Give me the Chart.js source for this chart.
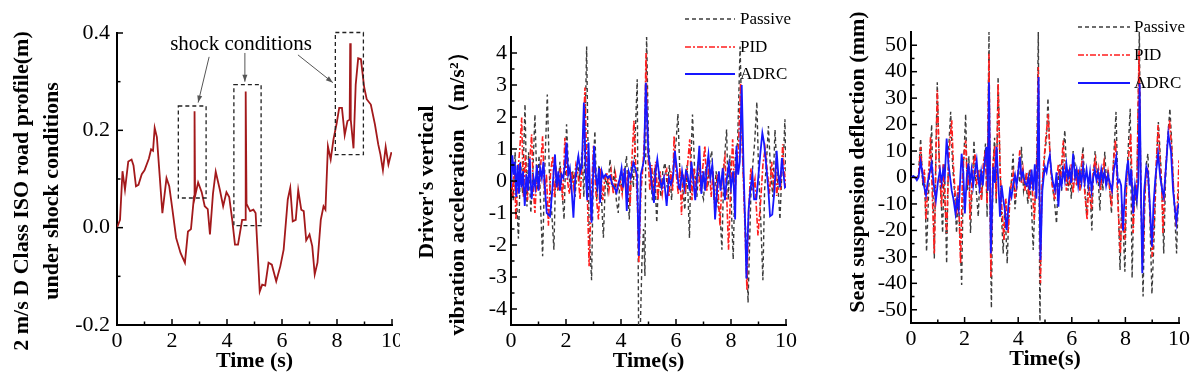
<!DOCTYPE html>
<html>
<head>
<meta charset="utf-8">
<script src="https://cdn.jsdelivr.net/npm/chart.js@4.4.1/dist/chart.umd.min.js"></script>
<style>
  html, body { margin: 0; padding: 0; background: #fff; }
  body { width: 1200px; height: 378px; position: relative; overflow: hidden; }
  .panel { position: absolute; top: 0; width: 400px; height: 378px; }
</style>
</head>
<body>
<div class="panel" style="left:0"><canvas id="road-profile"></canvas></div>
<div class="panel" style="left:400px"><canvas id="driver-acc"></canvas></div>
<div class="panel" style="left:800px"><canvas id="seat-defl"></canvas></div>
<script>
// Axis ticks
const timeTicks = [0, 2, 4, 6, 8, 10];
const timeMinorTicks = [1, 3, 5, 7, 9];
const roadTicks = [-0.2, 0, 0.2, 0.4];
const roadMinorTicks = [-0.1, 0.1, 0.3];
const accTicks = [-4, -3, -2, -1, 0, 1, 2, 3, 4];
const accMinorTicks = [-3.5, -2.5, -1.5, -0.5, 0.5, 1.5, 2.5, 3.5];
const deflTicks = [-50, -40, -30, -20, -10, 0, 10, 20, 30, 40, 50];
const deflMinorTicks = [-45, -35, -25, -15, -5, 5, 15, 25, 35, 45];

// Series names
const seriesNames = ["Passive", "PID", "ADRC"];

// Road profile (t, m)
const roadProfile = [
  [0,0.0],[0.11,0.016],[0.2,0.116],[0.29,0.078],[0.41,0.136],[0.53,0.14],[0.6,0.128],[0.69,0.085],[0.78,0.088],[0.9,0.11],
  [1.0,0.118],[1.16,0.142],[1.24,0.161],[1.31,0.158],[1.37,0.205],[1.45,0.186],[1.53,0.124],[1.65,0.03],[1.8,0.102],[1.9,0.085],
  [2.0,0.044],[2.15,-0.021],[2.31,-0.052],[2.47,-0.072],[2.58,-0.008],[2.69,-0.003],[2.8,0.064],[2.82,0.239],[2.84,0.065],[2.95,0.093],
  [3.08,0.073],[3.19,0.044],[3.3,0.038],[3.38,-0.014],[3.49,0.07],[3.59,0.115],[3.74,0.078],[3.86,0.044],[3.98,0.073],[4.08,0.063],
  [4.19,0.016],[4.29,-0.035],[4.4,-0.035],[4.55,0.016],[4.66,0.016],[4.68,0.28],[4.71,0.049],[4.84,0.034],[4.96,0.037],[5.04,0.03],
  [5.19,-0.131],[5.28,-0.117],[5.39,-0.119],[5.51,-0.072],[5.63,-0.076],[5.79,-0.11],[5.94,-0.079],[6.06,-0.045],[6.21,0.058],[6.3,0.082],
  [6.39,0.013],[6.5,0.016],[6.59,0.077],[6.7,0.037],[6.79,0.034],[6.88,-0.026],[7.0,-0.014],[7.1,-0.038],[7.19,-0.096],[7.29,-0.072],
  [7.41,0.016],[7.51,0.044],[7.58,0.037],[7.67,0.167],[7.77,0.14],[7.87,0.181],[7.99,0.215],[8.08,0.246],[8.18,0.246],[8.28,0.19],
  [8.38,0.219],[8.46,0.222],[8.48,0.379],[8.5,0.222],[8.6,0.163],[8.68,0.294],[8.77,0.348],[8.87,0.346],[8.99,0.288],[9.08,0.264],
  [9.23,0.253],[9.38,0.212],[9.5,0.171],[9.58,0.15],[9.67,0.118],[9.77,0.166],[9.87,0.13],[9.98,0.155]
];

// Shock annotations (t0, t1, v0, v1) and arrows (from t, v -> to t, v)
const shockBoxes = [[2.23, 3.24, 0.061, 0.25], [4.25, 5.24, 0.004, 0.294], [7.94, 8.96, 0.15, 0.401]];
const shockArrows = [[3.35, 0.351, 2.95, 0.257], [4.65, 0.359, 4.65, 0.3], [6.58, 0.355, 7.85, 0.298]];
const shockLabel = ["shock conditions", 4.51, 0.376];

// Driver's vertical acceleration (t, m/s^2)
const accPassive = [
  [0,0.3],[0.08,-0.6],[0.15,0.9],[0.22,-0.9],[0.27,-1.8],[0.35,0.6],[0.42,-0.4],[0.51,2.4],[0.58,-0.8],[0.64,0.9],
  [0.72,-1.0],[0.8,0.4],[0.87,2.08],[0.95,-0.3],[1.02,0.8],[1.08,-0.9],[1.15,-2.35],[1.22,0.2],[1.32,2.7],[1.4,0.1],
  [1.47,-0.8],[1.56,-2.15],[1.63,0.5],[1.7,-0.3],[1.78,0.6],[1.86,-0.4],[1.93,-1.2],[2.02,1.77],[2.1,0.2],[2.18,-0.3],
  [2.25,0.3],[2.33,-0.5],[2.42,0.6],[2.5,0.1],[2.58,0.9],[2.65,-0.5],[2.75,4.2],[2.84,-1.5],[2.93,-3.1],[3.0,0.6],
  [3.05,1.56],[3.12,-0.6],[3.2,0.5],[3.28,-0.4],[3.36,-1.77],[3.44,0.2],[3.52,-0.3],[3.6,0.68],[3.68,-0.2],[3.76,0.3],
  [3.83,-0.6],[3.9,-1.0],[3.97,0.2],[4.05,-0.3],[4.12,0.2],[4.2,0.78],[4.3,-1.2],[4.38,0.6],[4.45,-0.2],[4.52,1.5],
  [4.59,3.18],[4.64,-4.7],[4.7,-4.7],[4.76,-2.56],[4.82,-1.5],[4.87,-2.97],[4.93,4.6],[5.0,1.2],[5.07,0.3],[5.14,-0.6],
  [5.22,0.4],[5.3,-1.3],[5.38,0.2],[5.45,-0.5],[5.52,0.3],[5.6,0.57],[5.68,-0.2],[5.76,0.5],[5.84,-0.6],[5.92,0.7],
  [6.0,1.2],[6.07,2.1],[6.14,0.3],[6.24,-0.16],[6.32,-0.9],[6.4,0.5],[6.49,-1.78],[6.54,0.6],[6.6,2.08],[6.68,0.3],
  [6.76,-0.5],[6.84,0.6],[6.92,-0.3],[7.0,-0.57],[7.08,0.4],[7.16,-0.2],[7.23,0.6],[7.3,0.94],[7.38,-0.6],[7.46,0.3],
  [7.53,-0.8],[7.6,-1.0],[7.67,-2.15],[7.74,0.4],[7.84,1.61],[7.9,-0.6],[7.96,0.8],[8.02,-1.0],[8.08,-2.45],[8.16,0.8],
  [8.24,1.2],[8.33,4.2],[8.42,0.9],[8.5,-1.0],[8.56,-2.0],[8.62,-3.8],[8.72,-0.5],[8.8,0.6],[8.86,1.2],[8.94,2.47],
  [9.0,0.4],[9.08,-1.2],[9.16,-3.1],[9.22,-0.3],[9.29,0.6],[9.36,1.72],[9.44,0.3],[9.52,-0.5],[9.6,1.6],[9.68,0.2],
  [9.74,-0.6],[9.78,-1.2],[9.86,0.5],[9.92,1.0],[9.96,1.93],[10,0.2]
];
const accPID = [
  [0,0.3],[0.06,-0.5],[0.12,0.6],[0.18,-1.2],[0.25,0.3],[0.32,1.0],[0.39,1.98],[0.45,-0.5],[0.52,0.8],[0.6,-0.6],
  [0.68,0.6],[0.75,1.46],[0.81,-0.2],[0.87,-1.0],[0.95,0.4],[1.02,-0.3],[1.08,0.5],[1.15,1.4],[1.22,-0.4],[1.29,0.2],
  [1.36,-1.4],[1.44,0.3],[1.52,0.78],[1.58,-0.5],[1.65,0.2],[1.72,-0.3],[1.8,0.4],[1.88,-0.6],[1.96,1.35],[2.04,0.1],
  [2.12,-0.4],[2.2,0.3],[2.28,-0.2],[2.36,0.5],[2.44,0.2],[2.51,-0.57],[2.6,0.8],[2.69,2.92],[2.76,0.2],[2.84,-2.66],
  [2.92,-0.5],[3.0,1.1],[3.08,-0.3],[3.18,-1.2],[3.26,0.4],[3.34,-0.6],[3.41,0.1],[3.48,0.26],[3.56,-0.3],[3.64,0.3],
  [3.72,-0.4],[3.8,0.2],[3.88,-0.3],[3.96,0.05],[4.04,-0.4],[4.12,0.4],[4.2,-0.2],[4.26,0.3],[4.33,-0.78],[4.4,0.7],
  [4.47,1.88],[4.55,0.2],[4.6,-0.8],[4.65,-2.55],[4.72,-0.4],[4.8,0.5],[4.86,1.5],[4.91,4.0],[4.98,0.8],[5.05,-0.3],
  [5.12,0.5],[5.18,-0.57],[5.26,0.6],[5.34,-0.6],[5.42,0.3],[5.5,-0.4],[5.58,0.2],[5.66,0.36],[5.74,-0.5],[5.82,0.3],
  [5.88,-0.3],[5.93,1.4],[6.0,0.3],[6.08,-0.4],[6.14,0.4],[6.2,-1.06],[6.27,0.2],[6.34,-0.4],[6.42,0.5],[6.5,1.3],
  [6.58,-0.6],[6.65,0.4],[6.72,-0.4],[6.8,0.6],[6.88,-0.3],[6.96,0.3],[7.05,1.1],[7.12,-0.3],[7.2,0.6],[7.28,-0.5],
  [7.35,0.3],[7.42,-1.1],[7.5,0.2],[7.56,-0.8],[7.6,-1.4],[7.68,0.2],[7.78,0.73],[7.85,-0.6],[7.91,-2.15],[8.0,0.1],
  [8.06,1.3],[8.14,-0.5],[8.2,0.4],[8.27,1.0],[8.35,3.07],[8.42,0.8],[8.49,-1.0],[8.58,-3.4],[8.64,-1.0],[8.72,0.4],
  [8.8,-0.3],[8.87,0.05],[8.92,-0.8],[8.98,-1.7],[9.08,-0.6],[9.16,0.5],[9.24,1.0],[9.32,0.3],[9.4,-0.4],[9.48,0.6],
  [9.56,-0.3],[9.62,0.4],[9.66,-0.47],[9.74,0.2],[9.8,-0.3],[9.88,1.15],[9.94,0.3],[10,-0.2]
];
const accADRC = [
  [0,-0.2],[0.05,0.8],[0.1,0.2],[0.14,0.6],[0.19,-0.5],[0.24,0.5],[0.29,-0.4],[0.33,0.57],[0.38,-0.2],[0.44,0.3],
  [0.5,-0.78],[0.56,0.2],[0.62,-0.3],[0.68,0.7],[0.75,-0.57],[0.82,0.1],[0.88,-0.2],[0.94,0.5],[1.0,-0.3],[1.06,0.4],
  [1.12,0.1],[1.18,0.6],[1.24,-0.3],[1.3,-1.0],[1.42,-1.1],[1.5,-0.3],[1.6,0.83],[1.66,-0.2],[1.72,0.3],[1.78,-0.3],
  [1.84,0.2],[1.9,0.1],[1.96,0.5],[2.02,1.2],[2.08,0.2],[2.14,0.4],[2.2,-0.2],[2.27,-1.15],[2.34,0.1],[2.4,0.5],
  [2.45,0.78],[2.52,0.3],[2.58,0.5],[2.65,2.45],[2.72,0.2],[2.77,-0.6],[2.82,1.2],[2.87,-0.2],[2.93,-1.3],[3.02,1.1],
  [3.08,0.2],[3.14,-0.2],[3.2,0.4],[3.24,-0.68],[3.3,0.3],[3.36,0.1],[3.44,0.2],[3.52,0.1],[3.6,0.16],[3.68,-0.1],
  [3.76,-0.2],[3.84,-0.36],[3.9,-0.1],[3.96,0.1],[4.02,0.4],[4.08,-0.2],[4.14,0.4],[4.21,-0.94],[4.28,0.3],[4.35,0.1],
  [4.45,0.57],[4.52,0.4],[4.58,0.2],[4.65,-2.34],[4.72,0.2],[4.79,0.47],[4.84,0.7],[4.9,3.07],[5.0,0.78],[5.08,0.3],
  [5.14,-0.3],[5.2,-0.68],[5.26,0.3],[5.32,0.68],[5.4,0.1],[5.48,-0.2],[5.56,0.1],[5.66,-0.78],[5.74,0.1],[5.82,-0.1],
  [5.9,0.2],[5.96,0.94],[6.04,0.3],[6.1,-0.2],[6.15,-0.26],[6.22,0.3],[6.3,-0.2],[6.36,0.3],[6.42,0.2],[6.5,-0.3],
  [6.56,0.6],[6.62,0.1],[6.7,-0.6],[6.78,0.3],[6.85,1.1],[6.92,-0.4],[7.0,0.3],[7.06,-0.3],[7.12,0.4],[7.18,0.83],
  [7.25,0.1],[7.32,0.5],[7.38,-0.3],[7.42,-1.2],[7.5,-0.2],[7.56,0.3],[7.62,-0.3],[7.7,0.4],[7.78,-0.6],[7.85,0.1],
  [7.92,0.5],[8.0,-0.2],[8.08,0.3],[8.15,-1.2],[8.2,1.1],[8.26,0.2],[8.32,0.6],[8.39,3.0],[8.46,0.3],[8.52,-1.5],
  [8.56,-3.05],[8.64,-0.9],[8.7,-0.3],[8.78,0.2],[8.84,-0.57],[8.92,-0.57],[9.0,0.2],[9.06,0.8],[9.14,1.5],[9.2,1.2],
  [9.28,0.5],[9.36,-0.3],[9.42,-1.1],[9.5,-1.05],[9.58,-0.3],[9.66,0.94],[9.72,0.2],[9.78,-0.2],[9.85,0.72],[9.9,0.3],
  [9.96,-0.2],[10,-0.16]
];

// Seat suspension deflection (t, mm)
const deflPassive = [
  [0,0],[0.1,0.5],[0.2,-0.5],[0.28,1],[0.36,14.7],[0.44,-3],[0.5,2],[0.58,-28],[0.66,-5],[0.72,8],
  [0.77,20],[0.83,-10],[0.87,-30.6],[0.93,10],[0.98,36],[1.05,5],[1.12,-8],[1.18,-21],[1.24,5],[1.28,-10],
  [1.33,-32.5],[1.4,10],[1.48,24.8],[1.55,5],[1.62,-5],[1.7,-21],[1.76,-5],[1.82,-20],[1.89,-40.6],[1.96,5],
  [2.04,24],[2.1,-5],[2.16,8],[2.22,-21],[2.28,-5],[2.35,14],[2.42,-3],[2.51,-14.8],[2.58,3],[2.64,-8],
  [2.71,5],[2.78,12.8],[2.84,-15],[2.91,55],[2.96,-20],[3.0,-49.4],[3.06,5],[3.12,15],[3.18,-10],[3.25,38],
  [3.32,5],[3.38,-15],[3.44,-28.7],[3.5,-10],[3.59,-32.5],[3.66,-10],[3.72,-5],[3.81,9],[3.88,-12],[3.94,-5],
  [4.0,3],[4.06,-2],[4.12,11.6],[4.2,-5],[4.28,0],[4.36,-10],[4.42,3],[4.5,-12],[4.56,-27.4],[4.64,-5],
  [4.7,10],[4.75,55],[4.79,-20],[4.81,-57],[4.86,-10],[4.92,0],[5.0,10],[5.06,15],[5.11,30],[5.18,10],
  [5.24,0],[5.3,-5],[5.36,-10],[5.43,-17.4],[5.5,0],[5.56,5],[5.62,-5],[5.68,10],[5.74,17.9],[5.8,3],
  [5.86,-5],[5.92,3],[5.98,-8],[6.05,10],[6.12,5],[6.18,-3],[6.24,3],[6.3,-5],[6.36,5],[6.42,11.6],
  [6.48,-3],[6.55,-13.6],[6.62,0],[6.68,-5],[6.75,-20],[6.8,0],[6.87,10],[6.92,5],[6.98,0],[7.05,-12.5],
  [7.1,3],[7.16,-5],[7.23,9.7],[7.3,-3],[7.36,3],[7.42,-5],[7.48,-13.6],[7.55,5],[7.65,24.8],[7.72,-5],
  [7.8,-35],[7.86,-10],[7.92,-20],[7.98,-35.6],[8.05,0],[8.1,10],[8.18,26],[8.25,-38],[8.32,-5],[8.42,-10],
  [8.52,56],[8.58,-10],[8.66,-45],[8.72,-10],[8.78,5],[8.84,9],[8.9,-10],[8.99,-44],[9.08,-20],[9.16,5],
  [9.23,21],[9.32,5],[9.38,-10],[9.43,-28.7],[9.5,0],[9.58,15],[9.66,26],[9.72,15],[9.8,-5],[9.91,-28.7],
  [9.95,-15],[10,-3.5]
];
const deflPID = [
  [0,0],[0.1,0.3],[0.2,-0.5],[0.28,0.5],[0.36,11.6],[0.44,-2],[0.5,3],[0.56,-16],[0.63,-3],[0.68,6],
  [0.73,15.3],[0.8,-8],[0.87,-28.7],[0.93,8],[0.98,33],[1.05,8],[1.1,-3],[1.14,-11],[1.2,5],[1.26,-8],
  [1.33,-21],[1.4,5],[1.46,15],[1.52,21.6],[1.58,5],[1.64,-5],[1.7,-14],[1.76,-3],[1.85,-32.5],[1.92,0],
  [1.97,8],[2.04,14],[2.1,-3],[2.15,5],[2.2,-16],[2.27,-3],[2.33,5],[2.39,9],[2.45,-3],[2.52,3],
  [2.58,-5],[2.63,-8.5],[2.7,5],[2.78,10],[2.84,-10],[2.91,46.8],[2.98,-37.5],[3.05,3],[3.12,12],[3.18,-8],
  [3.25,35.5],[3.32,5],[3.38,-10],[3.47,-23.6],[3.54,-8],[3.63,-21],[3.7,-5],[3.81,1.5],[3.88,-8],[3.94,-3],
  [4.0,3],[4.06,10.3],[4.12,-2],[4.18,3],[4.25,-5],[4.32,2],[4.4,-8],[4.46,3],[4.53,-5],[4.6,-16],
  [4.66,0],[4.71,10],[4.75,41.8],[4.8,-10],[4.83,-40],[4.88,-5],[4.95,5],[5.03,15],[5.12,24],[5.2,5],
  [5.27,-3],[5.37,-8.5],[5.44,0],[5.5,5],[5.56,-3],[5.62,5],[5.68,14],[5.74,3],[5.8,-5],[5.86,3],
  [5.92,-3],[5.98,5],[6.05,-6],[6.12,3],[6.18,-3],[6.24,3],[6.3,-5],[6.4,9],[6.48,-5],[6.57,-16],
  [6.63,-3],[6.68,-8],[6.74,-12],[6.8,3],[6.88,7],[6.94,-2],[7.0,3],[7.07,-5],[7.14,3],[7.2,6],
  [7.28,-3],[7.35,2],[7.42,-5],[7.48,-11],[7.55,5],[7.63,14],[7.7,-5],[7.81,-28.7],[7.88,-10],[7.98,-23.6],
  [8.05,0],[8.12,8],[8.2,16.6],[8.29,-21],[8.36,-3],[8.42,-8],[8.51,48],[8.58,-8],[8.66,-31.2],[8.72,-8],
  [8.78,3],[8.82,4],[8.9,-10],[9.0,-30],[9.08,-15],[9.15,5],[9.22,19.8],[9.3,5],[9.36,-5],[9.4,-21],
  [9.48,0],[9.56,12],[9.65,21.6],[9.72,12],[9.8,-5],[9.9,-18.6],[9.95,-8],[10,6.5]
];
const deflADRC = [
  [0,0],[0.08,0.5],[0.16,0],[0.22,-1],[0.28,0],[0.36,6],[0.42,2],[0.48,-3],[0.56,-6.7],[0.62,-2],
  [0.68,1],[0.77,5.3],[0.84,-2],[0.93,-8.5],[1.0,-2],[1.08,2.8],[1.14,-2],[1.2,3],[1.26,0],[1.33,14.7],
  [1.4,5],[1.46,0],[1.52,-5],[1.58,-8],[1.66,-13.6],[1.72,-8],[1.78,-12],[1.84,0],[1.89,9],[1.95,2],
  [2.01,-13.6],[2.08,0],[2.14,5.3],[2.2,-2],[2.26,3],[2.32,-3],[2.38,2],[2.45,6.5],[2.5,0],[2.56,-4],
  [2.62,2],[2.68,-3],[2.74,5],[2.82,11.6],[2.87,-5],[2.91,36],[2.98,-28.7],[3.07,4],[3.13,-2],[3.19,11.6],
  [3.25,0],[3.32,-14.8],[3.38,-3],[3.44,-8],[3.5,-12],[3.57,-19.9],[3.64,-10],[3.69,-5],[3.75,-7.3],[3.82,-2],
  [3.88,1],[3.94,-3],[4.0,2],[4.06,7.8],[4.12,0],[4.18,2],[4.25,-2],[4.32,-3],[4.38,0],[4.43,-4.8],
  [4.5,3],[4.56,-5],[4.62,5],[4.68,-8],[4.72,5],[4.76,38],[4.8,-10],[4.83,-31.2],[4.9,-5],[4.95,0],
  [5.0,4],[5.06,2],[5.12,6],[5.18,8.4],[5.24,2],[5.3,-2],[5.37,-4.8],[5.43,2],[5.5,-11],[5.56,0],
  [5.62,-3],[5.68,3],[5.74,-1],[5.8,5],[5.86,0],[5.92,3],[5.98,-2],[6.05,9],[6.12,0],[6.18,3],
  [6.24,-3],[6.3,2],[6.36,-2],[6.42,4],[6.48,-2],[6.55,3],[6.62,-3],[6.68,2],[6.74,-5],[6.8,0],
  [6.86,3],[6.92,-1],[6.98,2],[7.04,-2],[7.1,3],[7.16,-1],[7.22,2],[7.28,-3],[7.35,1],[7.42,-2],
  [7.5,-5],[7.57,3],[7.66,7.8],[7.72,-2],[7.78,-1],[7.84,-3],[7.91,-20],[7.98,-5],[8.04,2],[8.1,6.5],
  [8.16,-3],[8.22,3],[8.29,-13.6],[8.36,-3],[8.43,-8],[8.48,-2],[8.53,35.5],[8.58,-5],[8.63,-36.2],[8.7,-5],
  [8.78,4],[8.84,2],[8.9,-8],[8.99,-26.2],[9.05,-10],[9.12,0],[9.22,9],[9.3,0],[9.38,-5],[9.43,-7.3],
  [9.5,2],[9.6,16.6],[9.7,10],[9.78,-5],[9.9,-17],[9.95,-12],[10,-9.8]
];

//Helpers
const serif = "'Liberation Serif', 'Times New Roman', serif";
const toPoints = (pairs) => pairs.map(([x, y]) => ({ x: x, y: y }));

const seriesStyles = [
  { borderColor: "#3c3c3c", borderDash: [4, 3], borderWidth: 1.4 },
  { borderColor: "#ff1e1e", borderDash: [6, 2, 2, 2], borderWidth: 1.6 },
  { borderColor: "#1717ff", borderDash: [], borderWidth: 1.8 },
];

const threeSeries = (lists) =>
  lists.map((list, i) => ({
    label: seriesNames[i],
    data: toPoints(list),
    pointRadius: 0,
    tension: 0,
    order: 3 - i,
    ...seriesStyles[i],
  }));

//Plugins
// ticks that point into the plot, like the original figure
const inwardTicks = {
  id: "inwardTicks",
  afterDraw(chart, args, opts) {
    const { ctx, chartArea: area, scales } = chart;
    const x = scales.x;
    const y = scales.y;
    ctx.save();
    ctx.strokeStyle = "#000";
    ctx.lineWidth = 1.5;
    const mark = (x0, y0, x1, y1) => {
      ctx.beginPath();
      ctx.moveTo(x0, y0);
      ctx.lineTo(x1, y1);
      ctx.stroke();
    };
    opts.xMajor.forEach((v) => { const px = x.getPixelForValue(v); mark(px, area.bottom, px, area.bottom - 6); });
    opts.xMinor.forEach((v) => { const px = x.getPixelForValue(v); mark(px, area.bottom, px, area.bottom - 3.5); });
    opts.yMajor.forEach((v) => { const py = y.getPixelForValue(v); mark(area.left, py, area.left + 6, py); });
    opts.yMinor.forEach((v) => { const py = y.getPixelForValue(v); mark(area.left, py, area.left + 3.5, py); });
    ctx.restore();
  },
};

// rotated y-axis titles
const yTitles = {
  id: "yTitles",
  afterDraw(chart, args, opts) {
    const { ctx } = chart;
    ctx.save();
    ctx.font = "bold 22px " + serif;
    ctx.fillStyle = "#000";
    ctx.textAlign = "center";
    ctx.textBaseline = "middle";
    opts.lines.forEach(([text, cx, cy]) => {
      ctx.save();
      ctx.translate(cx, cy);
      ctx.rotate(-Math.PI / 2);
      ctx.fillText(text, 0, 0);
      ctx.restore();
    });
    ctx.restore();
  },
};

// stacked legend in the top right corner
const seriesKey = {
  id: "seriesKey",
  afterDraw(chart, args, opts) {
    if (!opts.ys) return;
    const { ctx } = chart;
    ctx.save();
    ctx.font = "17px " + serif;
    ctx.textBaseline = "middle";
    ctx.fillStyle = "#000";
    chart.data.datasets.forEach((ds, i) => {
      const yy = opts.ys[i];
      ctx.strokeStyle = ds.borderColor;
      ctx.lineWidth = ds.borderWidth;
      ctx.setLineDash(ds.borderDash);
      ctx.beginPath();
      ctx.moveTo(opts.x0, yy);
      ctx.lineTo(opts.x1, yy);
      ctx.stroke();
      ctx.setLineDash([]);
      ctx.fillText(ds.label, opts.textX, yy + 1);
    });
    ctx.restore();
  },
};

// dashed boxes, arrows and label for the shocks
const shockMarks = {
  id: "shockMarks",
  afterDraw(chart, args, opts) {
    if (!opts.boxes) return;
    const { ctx, scales: { x, y } } = chart;
    ctx.save();
    ctx.strokeStyle = "#222";
    ctx.lineWidth = 1.3;
    ctx.setLineDash([4, 3]);
    opts.boxes.forEach(([t0, t1, v0, v1]) => {
      const left = x.getPixelForValue(t0);
      const right = x.getPixelForValue(t1);
      const top = y.getPixelForValue(v1);
      const bottom = y.getPixelForValue(v0);
      ctx.strokeRect(left, top, right - left, bottom - top);
    });
    ctx.setLineDash([]);
    ctx.strokeStyle = "#555";
    ctx.fillStyle = "#555";
    ctx.lineWidth = 1;
    opts.arrows.forEach(([ta, va, tb, vb]) => {
      const xa = x.getPixelForValue(ta);
      const ya = y.getPixelForValue(va);
      const xb = x.getPixelForValue(tb);
      const yb = y.getPixelForValue(vb);
      ctx.beginPath();
      ctx.moveTo(xa, ya);
      ctx.lineTo(xb, yb);
      ctx.stroke();
      const ang = Math.atan2(yb - ya, xb - xa);
      ctx.beginPath();
      ctx.moveTo(xb, yb);
      ctx.lineTo(xb - 7 * Math.cos(ang) + 2.5 * Math.sin(ang), yb - 7 * Math.sin(ang) - 2.5 * Math.cos(ang));
      ctx.lineTo(xb - 7 * Math.cos(ang) - 2.5 * Math.sin(ang), yb - 7 * Math.sin(ang) + 2.5 * Math.cos(ang));
      ctx.closePath();
      ctx.fill();
    });
    const [text, tl, vl] = opts.label;
    ctx.fillStyle = "#000";
    ctx.font = "21px " + serif;
    ctx.textAlign = "center";
    ctx.textBaseline = "middle";
    ctx.fillText(text, x.getPixelForValue(tl), y.getPixelForValue(vl));
    ctx.restore();
  },
};

//Charts
const makePanel = (canvasId, datasets, cfg) => {
  const canvas = document.getElementById(canvasId);
  const tickFont = { family: serif, size: 22 };
  return new Chart(canvas, {
    type: "line",
    data: { datasets: datasets },
    options: {
      responsive: true,
      maintainAspectRatio: false,
      animation: false,
      layout: { padding: { top: cfg.top, right: cfg.right, bottom: 0, left: 0 } },
      plugins: {
        legend: { display: false },
        tooltip: { enabled: false },
        inwardTicks: { xMajor: timeTicks, xMinor: timeMinorTicks, yMajor: cfg.yTicks, yMinor: cfg.yMinor },
        yTitles: { lines: cfg.yTitle },
        seriesKey: cfg.key || {},
        shockMarks: cfg.shock || {},
      },
      scales: {
        x: {
          type: "linear",
          min: 0,
          max: 10,
          afterBuildTicks: (scale) => { scale.ticks = timeTicks.map((v) => ({ value: v })); },
          afterFit: (scale) => { scale.height = cfg.xHeight; scale.paddingLeft = 0; scale.paddingRight = 0; },
          grid: { display: false, drawTicks: false },
          border: { display: true, color: "#000", width: 2 },
          ticks: { font: tickFont, color: "#000", padding: 3, maxRotation: 0, autoSkip: false },
          title: {
            display: true,
            text: cfg.xTitle,
            color: "#000",
            font: { family: serif, size: 22, weight: "bold" },
            padding: { top: 0, bottom: cfg.xTitlePad },
          },
        },
        y: {
          type: "linear",
          min: cfg.yMin,
          max: cfg.yMax,
          afterBuildTicks: (scale) => { scale.ticks = cfg.yTicks.map((v) => ({ value: v })); },
          afterFit: (scale) => { scale.width = cfg.yWidth; scale.paddingTop = 0; scale.paddingBottom = 0; },
          grid: { display: false, drawTicks: false },
          border: { display: true, color: "#000", width: 2 },
          ticks: { font: tickFont, color: "#000", padding: cfg.yPad, autoSkip: false, callback: cfg.yFormat },
        },
      },
    },
    plugins: [inwardTicks, yTitles, seriesKey, shockMarks],
  });
};

makePanel(
  "road-profile",
  [{ data: toPoints(roadProfile), borderColor: "#a3191b", borderWidth: 1.8, pointRadius: 0, tension: 0 }],
  {
    top: 33, right: 8, yWidth: 117, xHeight: 53, xTitlePad: 3, yPad: 7,
    yMin: -0.2, yMax: 0.4, yTicks: roadTicks, yMinor: roadMinorTicks,
    yFormat: (v) => v.toFixed(1),
    xTitle: "Time (s)",
    yTitle: [["2 m/s D Class ISO road profile(m)", 22, 191], ["under shock conditions", 52, 191]],
    shock: { boxes: shockBoxes, arrows: shockArrows, label: shockLabel },
  }
);

makePanel(
  "driver-acc",
  threeSeries([accPassive, accPID, accADRC]),
  {
    top: 37, right: 14, yWidth: 111, xHeight: 53, xTitlePad: 3, yPad: 4,
    yMin: -4.5, yMax: 4.5, yTicks: accTicks, yMinor: accMinorTicks,
    yFormat: (v) => String(v),
    xTitle: "Time(s)",
    yTitle: [["Driver's vertical", 27, 182], ["vibration acceleration （m/s²）", 58, 188]],
    key: { x0: 285, x1: 335, textX: 340, ys: [19, 47, 74] },
  }
);

makePanel(
  "seat-defl",
  threeSeries([deflPassive, deflPID, deflADRC]),
  {
    top: 32, right: 21, yWidth: 111, xHeight: 55, xTitlePad: 5, yPad: 4,
    yMin: -55, yMax: 55, yTicks: deflTicks, yMinor: deflMinorTicks,
    yFormat: (v) => String(v),
    xTitle: "Time(s)",
    yTitle: [["Seat suspension deflection (mm)", 58, 162]],
    key: { x0: 278, x1: 330, textX: 334, ys: [27, 55, 83] },
  }
);
</script>
</body>
</html>
